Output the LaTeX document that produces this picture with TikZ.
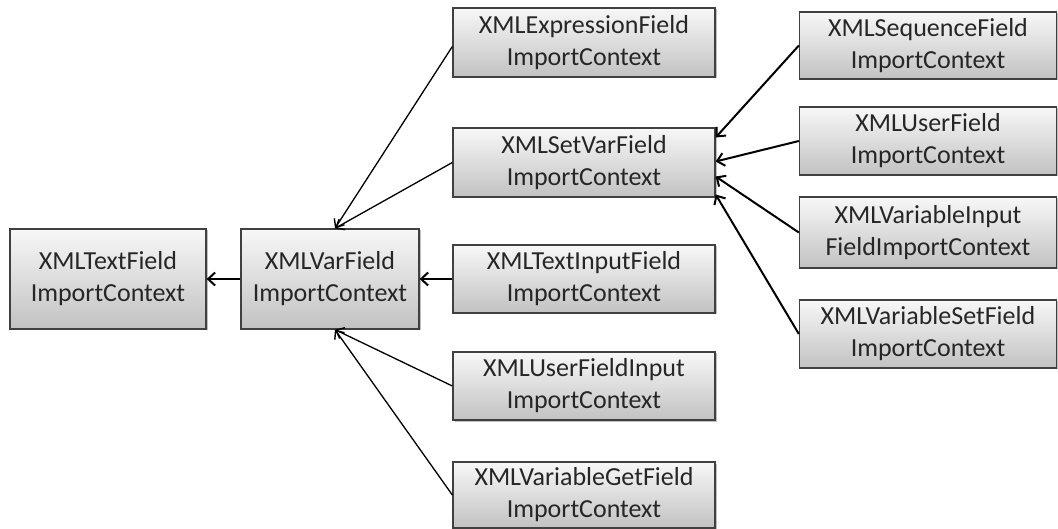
\documentclass[tikz,border=0pt]{standalone}
\usepackage{fontspec}
\setmainfont{Carlito}
\usetikzlibrary{arrows.meta,shadows,calc}
\begin{document}
\begin{tikzpicture}[x=1pt,y=-1pt,
  box/.style={draw=black!75, line width=1.3pt, rectangle, inner sep=0pt,
    top color=gray!6, bottom color=gray!48, align=center, text=black!85,
    font=\fontsize{26}{32}\selectfont,
    drop shadow={shadow xshift=1.5pt, shadow yshift=-1.5pt, opacity=0.25, fill=black}},
  thin arr/.style={line width=1.3pt, -{Straight Barb[length=7pt,width=12pt,line width=1.4pt]}},
  thick arr/.style={line width=2pt, -{Straight Barb[length=7pt,width=13pt,line width=2pt]}}]
\useasboundingbox (0,0) rectangle (1058,529);
\node[box, minimum width=196, minimum height=100] (tf) at (108,279) {XMLTextField\\ImportContext};
\node[box, minimum width=178, minimum height=100] (vf) at (330,279) {XMLVarField\\ImportContext};
\node[box, minimum width=262, minimum height=69] (ex) at (584,42.5) {XMLExpressionField\\ImportContext};
\node[box, minimum width=262, minimum height=69] (sv) at (584,162.5) {XMLSetVarField\\ImportContext};
\node[box, minimum width=262, minimum height=68] (ti) at (584,279) {XMLTextInputField\\ImportContext};
\node[box, minimum width=262, minimum height=68] (ufi) at (584,386) {XMLUserFieldInput\\ImportContext};
\node[box, minimum width=262, minimum height=66] (vg) at (584,495) {XMLVariableGetField\\ImportContext};
\node[box, minimum width=257, minimum height=67] (seq) at (928,45.5) {XMLSequenceField\\ImportContext};
\node[box, minimum width=257, minimum height=68] (uf) at (928,141) {XMLUserField\\ImportContext};
\node[box, minimum width=257, minimum height=71] (vi) at (928,232.5) {XMLVariableInput\\FieldImportContext};
\node[box, minimum width=257, minimum height=68] (vs) at (928,334) {XMLVariableSetField\\ImportContext};
\draw[thick arr] (vf.west) -- (tf.east);
\draw[thick arr] (ti.west) -- (vf.east);
\draw[thin arr] ($(ex.west)+(0,4)$) -- ($(vf.north)+(5,0)$);
\draw[thin arr] (sv.west) -- ($(vf.north)+(5,0)$);
\draw[thin arr] (ufi.west) -- ($(vf.south)+(5,0)$);
\draw[thin arr] (vg.west) -- ($(vf.south)+(5,0)$);
\draw[thick arr] (seq.west) -- ($(sv.east)+(0,-25)$);
\draw[thick arr] (uf.west) -- ($(sv.east)+(0,-1)$);
\draw[thick arr] (vi.west) -- ($(sv.east)+(0,14)$);
\draw[thick arr] (vs.west) -- ($(sv.east)+(0,32)$);
\end{tikzpicture}
\end{document}
